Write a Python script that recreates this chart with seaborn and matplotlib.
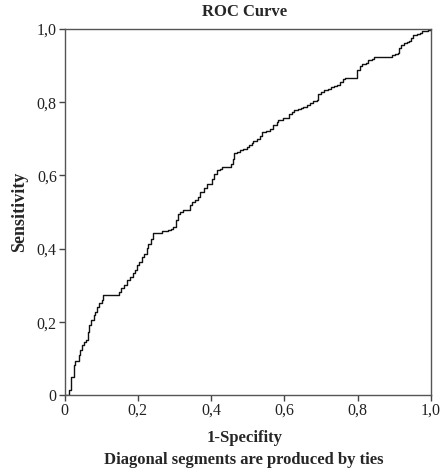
import matplotlib
matplotlib.use("Agg")
import matplotlib.pyplot as plt
import seaborn as sns
import pandas as pd
from matplotlib.ticker import FixedLocator, FixedFormatter

fpr = [0.000, 0.013, 0.019, 0.025, 0.030, 0.039, 0.043, 0.048, 0.052, 0.059,
       0.064, 0.068, 0.073, 0.080, 0.084, 0.089, 0.095, 0.101, 0.104, 0.150,
       0.155, 0.163, 0.170, 0.178, 0.186, 0.191,
       0.197, 0.203, 0.211, 0.218, 0.224, 0.229, 0.236, 0.242, 0.249, 0.267,
       0.283, 0.291, 0.297, 0.303, 0.311, 0.315, 0.324, 0.342, 0.349, 0.356,
       0.363, 0.370, 0.380, 0.390,
       0.402, 0.408, 0.415, 0.423, 0.429, 0.453, 0.459, 0.463, 0.472, 0.479,
       0.488, 0.497, 0.504, 0.511, 0.515, 0.524, 0.533, 0.538, 0.550, 0.561,
       0.570, 0.579, 0.583,
       0.595, 0.613, 0.620, 0.627, 0.636, 0.645, 0.652, 0.661, 0.670, 0.679,
       0.688, 0.693, 0.700, 0.709, 0.718, 0.727, 0.736, 0.743, 0.752, 0.761,
       0.765,
       0.797, 0.806, 0.813, 0.822, 0.829, 0.838, 0.845, 0.893, 0.902, 0.909,
       0.914, 0.918, 0.927, 0.934, 0.940, 0.945, 0.952, 0.961, 0.970, 0.976,
       0.984, 0.991, 1.000]
tpr = [0.000, 0.015, 0.050, 0.083, 0.095, 0.110, 0.124, 0.138, 0.147, 0.151,
       0.174, 0.192, 0.206, 0.219, 0.228, 0.242, 0.251, 0.260, 0.274, 0.283,
       0.292, 0.301, 0.315, 0.324, 0.333, 0.342,
       0.355, 0.365, 0.378, 0.387, 0.401, 0.414, 0.428, 0.442, 0.444, 0.448,
       0.451, 0.455, 0.460, 0.478, 0.496, 0.501, 0.505, 0.519, 0.528, 0.532,
       0.542, 0.555, 0.565, 0.578,
       0.591, 0.605, 0.614, 0.619, 0.623, 0.630, 0.646, 0.660, 0.664, 0.669,
       0.673, 0.678, 0.682, 0.689, 0.694, 0.700, 0.709, 0.719, 0.721, 0.728,
       0.737, 0.746, 0.750,
       0.758, 0.769, 0.773, 0.778, 0.780, 0.784, 0.788, 0.793, 0.798, 0.802,
       0.807, 0.823, 0.827, 0.832, 0.837, 0.841, 0.843, 0.848, 0.855, 0.864,
       0.867,
       0.889, 0.898, 0.903, 0.907, 0.914, 0.918, 0.924, 0.928, 0.932, 0.935,
       0.948, 0.957, 0.960, 0.965, 0.968, 0.975, 0.984, 0.986, 0.988, 0.993,
       0.995, 0.997, 1.000]
tick_values = [0.0, 0.2, 0.4, 0.6, 0.8, 1.0]
tick_labels = ["0", "0,2", "0,4", "0,6", "0,8", "1,0"]

sns.set_style("white")
plt.rcParams['font.family'] = ['Liberation Serif', 'DejaVu Serif']

fig = plt.figure(figsize=(4.4, 4.71), dpi=100)
ax = fig.add_axes([0.1466, 0.1603, 0.8329, 0.7785])

df = pd.DataFrame({"fpr": fpr, "tpr": tpr})
sns.lineplot(data=df, x="fpr", y="tpr", ax=ax, sort=False, estimator=None,
             color="#111111", linewidth=1.0, drawstyle="steps-post")

ax.set_xlim(0, 1)
ax.set_ylim(0, 1)
ax.xaxis.set_major_locator(FixedLocator(tick_values))
ax.xaxis.set_major_formatter(FixedFormatter(tick_labels))
ax.yaxis.set_major_locator(FixedLocator(tick_values))
ax.yaxis.set_major_formatter(FixedFormatter(tick_labels))
ax.tick_params(axis="both", direction="out", length=4, width=1.0,
               color="#444444", labelsize=11.5, labelcolor="#222222", pad=1.5,
               bottom=True, left=True)
for s in ax.spines.values():
    s.set_color("#555555")
    s.set_linewidth(1.0)
ax.set_xlabel("")
ax.set_ylabel("Sensitivity", fontsize=13, fontweight="bold", labelpad=6)

fig.text(0.555, 0.974, "ROC Curve", ha="center", va="center",
         fontsize=12, fontweight="bold")
fig.text(0.555, 0.07, "1-Specifity", ha="center", va="center",
         fontsize=12, fontweight="bold")
fig.text(0.555, 0.023, "Diagonal segments are produced by ties", ha="center",
         va="center", fontsize=12, fontweight="bold")

fig.savefig("out.png", dpi=100)
